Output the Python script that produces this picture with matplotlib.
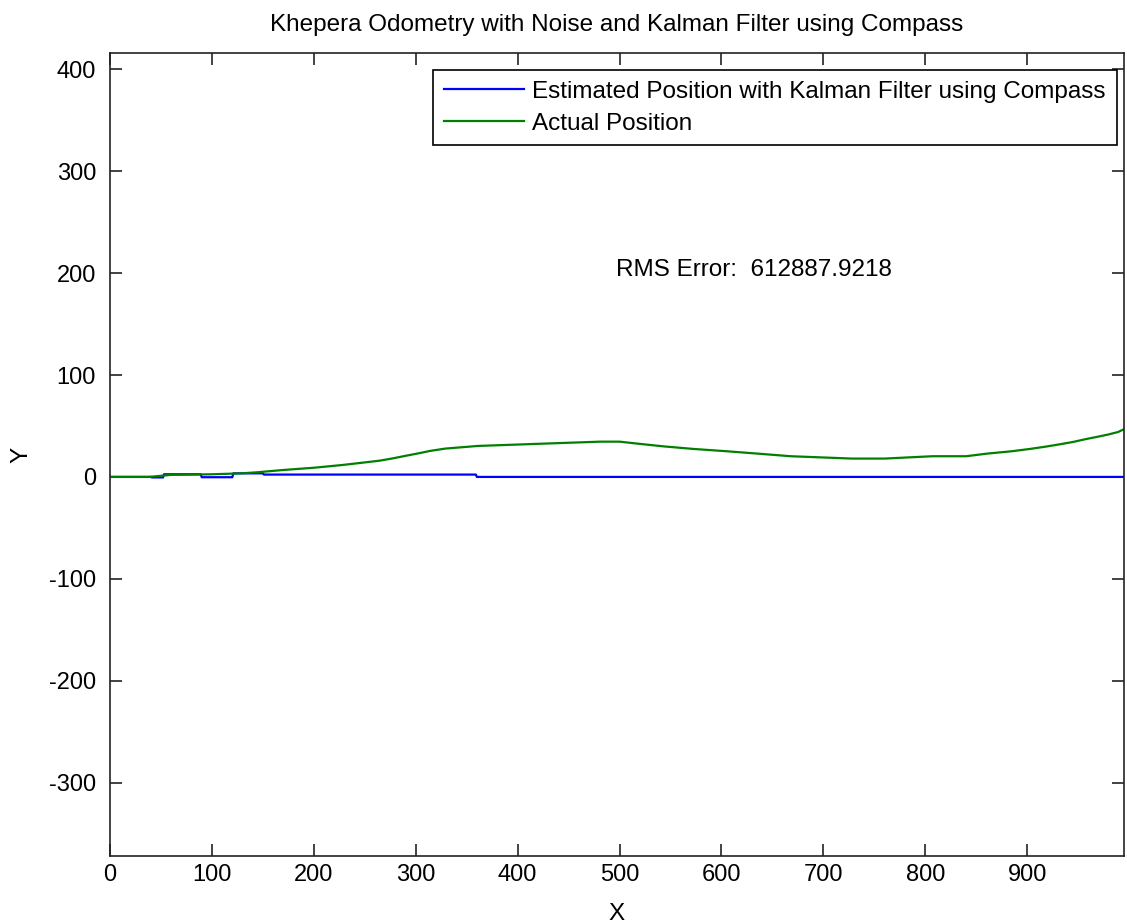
import matplotlib
matplotlib.use('Agg')
import matplotlib.pyplot as plt

# actual (green) path
actual_x = [0, 38, 60, 100, 129, 145, 170, 200, 228, 248, 265, 278, 291, 303, 314,
            329, 361, 418, 481, 500, 520, 543, 572, 605, 635, 668, 728, 760, 807, 840,
            861, 885, 903, 918, 932, 945, 957, 968, 979, 989, 995]
actual_y = [0, 0, 2, 2.6, 3.5, 4.6, 6.8, 9, 11.7, 14, 16, 18.3, 20.9, 23.2, 25.5,
            27.8, 30.4, 32.4, 34.6, 34.6, 32.4, 30, 27.5, 25.2, 22.9, 20.3, 18, 18, 20.3, 20.3,
            22.9, 25.2, 27.5, 29.7, 32, 34.3, 37, 39.2, 41.5, 44, 46.8]

# kalman estimate (blue)
est_x = [0, 40, 41, 52, 53, 89, 90, 120, 121, 150, 151, 359, 360, 995]
est_y = [0, 0, -0.5, -0.5, 2.6, 2.6, -0.3, -0.3, 3.5, 3.5, 2.3, 2.3, 0, 0]

rms_error = 612887.9218

plt.rcParams['font.family'] = ['Liberation Sans', 'DejaVu Sans']
plt.rcParams['axes.unicode_minus'] = False

fs = 17.5

fig = plt.figure(figsize=(11.27, 9.24), dpi=100)
ax = fig.add_axes([110 / 1127, 68 / 924, 1014 / 1127, 803 / 924])

ax.plot(est_x, est_y, color='#0000ff', lw=1.6,
        label='Estimated Position with Kalman Filter using Compass')
ax.plot(actual_x, actual_y, color='#008000', lw=1.6, label='Actual Position')

ax.text(497, 203, 'RMS Error:  %.4f' % rms_error, fontsize=fs, va='center', ha='left')

ax.set_xlim(0, 995)
ax.set_ylim(-372, 416)
ax.set_xticks(range(0, 1000, 100))
ax.set_yticks(range(-300, 500, 100))
ax.tick_params(direction='in', length=8.6, width=1.2, top=True, right=True,
               labelsize=17, colors='#222222', labelcolor='black')
ax.tick_params(axis='x', pad=6)
ax.tick_params(axis='y', pad=10)
for s in ax.spines.values():
    s.set_linewidth(1.2)
    s.set_color('#222222')

ax.set_title('Khepera Odometry with Noise and Kalman Filter using Compass', fontsize=fs, pad=16)
ax.set_xlabel('X', fontsize=fs, labelpad=12)
ax.set_ylabel('Y', fontsize=fs, labelpad=12)

leg = ax.legend(loc='upper right', bbox_to_anchor=(0.993, 0.979), borderaxespad=0,
                fontsize=fs, fancybox=False, framealpha=1, edgecolor='black',
                handlelength=3.3, handletextpad=0.35, borderpad=0.45, labelspacing=0.4)
leg.get_frame().set_linewidth(1.2)

fig.savefig('out.png', dpi=100)
